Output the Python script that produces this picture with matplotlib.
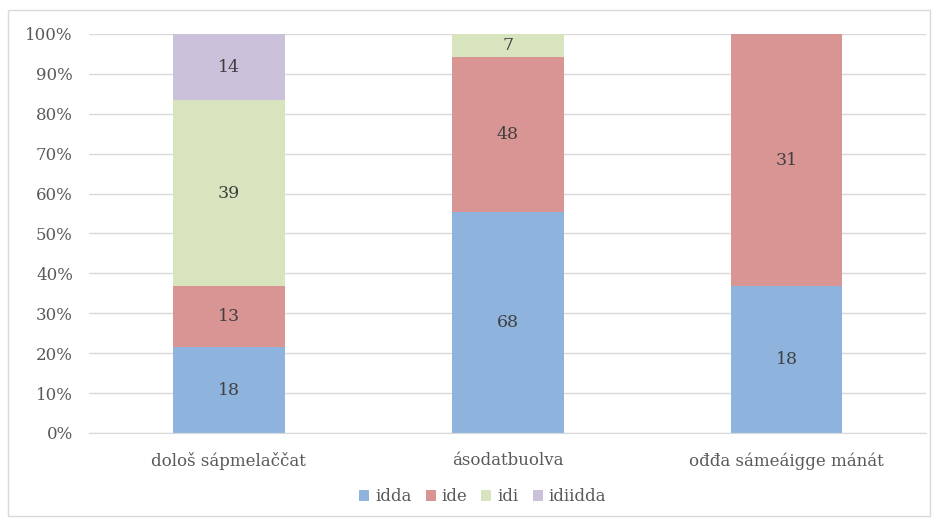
import matplotlib
matplotlib.use("Agg")
import matplotlib.pyplot as plt
import matplotlib.patches as patches
import numpy as np

categories = ["dološ sápmelaččat", "ásodatbuolva", "ođđa sámeáigge mánát"]
series = ["idda", "ide", "idi", "idiidda"]
idda = [18, 68, 18]
ide = [13, 48, 31]
idi = [39, 7, 0]
idiidda = [14, 0, 0]
colors = ["#8EB4DE", "#D99594", "#D7E4BD", "#CCC1DA"]

plt.rcParams['font.family'] = ['DejaVu Serif']
txt = "#595959"

counts = np.array([idda, ide, idi, idiidda], dtype=float)
totals = counts.sum(axis=0)
pct = counts / totals * 100

fig = plt.figure(figsize=(9.39, 5.23), dpi=100)
ax = fig.add_axes([0.0953, 0.1721, 0.8909, 0.7629])

x = np.arange(len(categories))
bottom = np.zeros(len(categories))
for i, name in enumerate(series):
    ax.bar(x, pct[i], 0.4, bottom=bottom, color=colors[i], label=name, zorder=2)
    for j in range(len(categories)):
        if counts[i][j] > 0:
            ax.text(x[j], bottom[j] + pct[i][j] / 2, str(int(counts[i][j])),
                    ha="center", va="center", fontsize=12.5, color="#404040")
    bottom += pct[i]

ax.set_xlim(-0.5, 2.5)
ax.set_ylim(0, 100)
ax.set_yticks(range(0, 101, 10))
ax.set_yticklabels([f"{v}%" for v in range(0, 101, 10)])
ax.set_xticks(x)
ax.set_xticklabels(categories)
ax.tick_params(length=0, labelsize=12, colors=txt)
ax.tick_params(axis="x", pad=14)
ax.tick_params(axis="y", pad=12)
ax.grid(axis="y", color="#d9d9d9", linewidth=1, zorder=0)
for s in ["top", "right", "left"]:
    ax.spines[s].set_visible(False)
ax.spines["bottom"].set_color("#d9d9d9")

leg = fig.legend(loc="center", bbox_to_anchor=(0.514, 0.05), ncol=4, frameon=False,
                 fontsize=12, handlelength=0.6, handleheight=0.7, handletextpad=0.35,
                 columnspacing=0.85)
for t in leg.get_texts():
    t.set_color(txt)

fig.patches.append(patches.Rectangle((8/939, 1-516/523), 922/939, 506/523,
                                     transform=fig.transFigure, fill=False,
                                     edgecolor="#d9d9d9", linewidth=1))

fig.savefig("out.png", dpi=100)
